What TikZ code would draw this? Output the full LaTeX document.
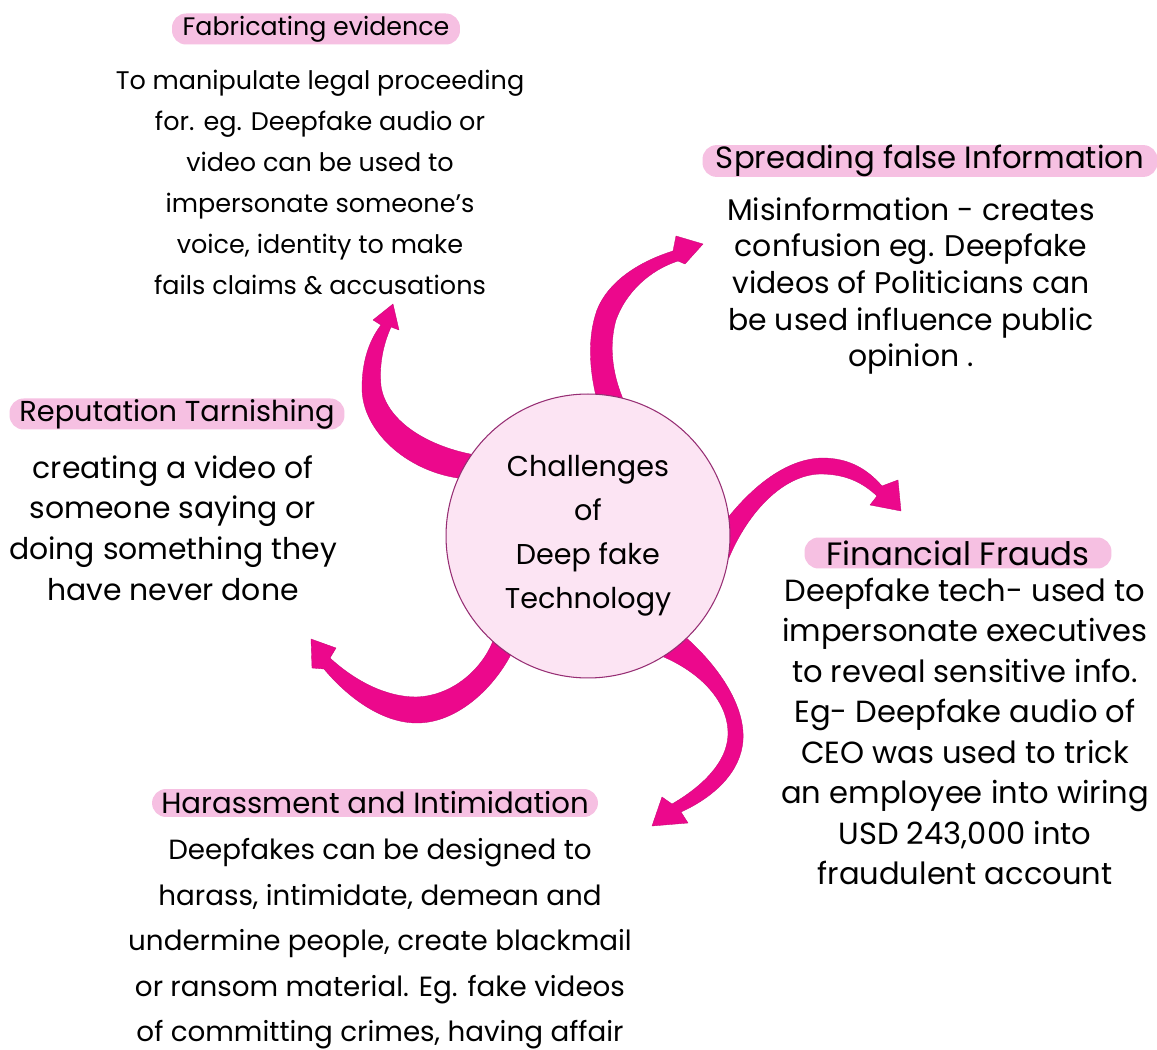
\documentclass[tikz,border=0pt]{standalone}
\usepackage{fontspec}
\setmainfont{Poppins}
\usetikzlibrary{positioning,backgrounds}

\definecolor{hotpink}{RGB}{236,8,140}
\definecolor{hubfill}{RGB}{252,228,243}
\definecolor{hubline}{RGB}{150,45,115}
\definecolor{marker}{RGB}{246,192,226}

% size and leading in one go
\newcommand{\hand}[2]{\fontsize{#1}{#2}\selectfont}

\tikzset{
  headbox/.style={fill=marker, rounded corners=8pt, minimum height=0.62cm, inner sep=0pt},
  bodytext/.style={align=center, inner sep=0pt},
  swoosh/.style={fill=hotpink, draw=hotpink!85!black, line width=0.2pt, line join=round},
}

\begin{document}
\begin{tikzpicture}[x=0.02cm, y=-0.02cm]
\useasboundingbox (0,0) rectangle (1157,1050);

% --- CENTRE ---
\node[circle, draw=hubline, fill=hubfill, line width=0.6pt, minimum size=5.68cm,
  align=center, font=\hand{16.3}{25}] (hub) at (588,536)
  {Challenges\\of\\Deep fake\\Technology};

% --- headings ---
\node[headbox, minimum width=5.76cm, font=\hand{14.4}{17}] (fabhead) at (316,29)
  {Fabricating evidence};
\node[headbox, minimum width=9.1cm, font=\hand{17.5}{20}] (spreadhead) at (930,161)
  {Spreading false Information};
\node[headbox, minimum width=6.7cm, font=\hand{16.4}{19}] (rephead) at (177,414)
  {Reputation Tarnishing};
\node[headbox, minimum width=6.14cm, font=\hand{18.4}{21}] (finhead) at (958,553)
  {Financial Frauds};
\node[headbox, minimum width=8.92cm, minimum height=0.56cm, font=\hand{16.6}{19}] (harhead)
  at (375,803) {Harassment and Intimidation};

% --- text under each heading ---
\node[bodytext, font=\hand{14.5}{23.3}, below=0.5cm of fabhead, xshift=0.08cm] (fabtext)
  {To manipulate legal proceeding\\ for. eg. Deepfake audio or\\ video can be used to\\
   impersonate someone's\\ voice, identity to make\\ fails claims \& accusations};
\node[bodytext, font=\hand{17}{20.8}, below=0.4cm of spreadhead, xshift=-0.38cm] (spreadtext)
  {Misinformation - creates\\ confusion eg. Deepfake\\ videos of Politicians can\\
   be used influence public\\ opinion .};
\node[bodytext, font=\hand{17}{23.3}, below=0.5cm of rephead, xshift=-0.08cm] (reptext)
  {creating a video of\\ someone saying or\\ doing something they\\ have never done};
\node[bodytext, font=\hand{17.4}{23}, below=0.18cm of finhead, xshift=0.14cm] (fintext)
  {Deepfake tech- used to\\ impersonate executives\\ to reveal sensitive info.\\
   Eg- Deepfake audio of\\ CEO was used to trick\\ an employee into wiring\\
   USD 243,000 into\\ fraudulent account};
\node[bodytext, font=\hand{15.8}{25.9}, below=0.42cm of harhead, xshift=0.1cm] (hartext)
  {Deepfakes can be designed to\\ harass, intimidate, demean and\\
   undermine people, create blackmail\\ or ransom material. Eg. fake videos\\
   of committing crimes, having affair};

% arrow tips
\coordinate (fabtip) at (393,304);
\coordinate (spreadtip) at (703,244);
\coordinate (fintip) at (901,511);
\coordinate (hartip) at (652,826);
\coordinate (reptip) at (311,639);

% --- curved arrows, kept behind the circle ---
\begin{scope}[on background layer]
  \fill[white] (0,0) rectangle (1157,1050);

  % up to the evidence heading
  \fill[swoosh] (hub.156) .. controls (405,470) and (362,430) .. (362,388)
    .. controls (362,358) and (371,338) .. (381,325)
    -- (373,320) -- (fabtip) -- (399,330) -- (391,327)
    .. controls (383,345) and (379,365) .. (381,386)
    .. controls (386,420) and (425,445) .. (hub.145) -- cycle;

  % up and over to false information
  \fill[swoosh] (hub.87) .. controls (590,370) and (587,338) .. (597,310)
    .. controls (608,282) and (638,262) .. (673,251)
    -- (676,236) -- (spreadtip) -- (685,264) -- (678,261)
    .. controls (650,270) and (626,292) .. (616,320)
    .. controls (609,345) and (612,372) .. (hub.76) -- cycle;

  % right, to the frauds
  \fill[swoosh] (hub.8) .. controls (752,488) and (785,459) .. (822,458)
    .. controls (850,458) and (868,470) .. (882,486)
    -- (898,480) -- (fintip) -- (870,505) -- (877,496)
    .. controls (862,482) and (845,474) .. (820,474)
    .. controls (783,475) and (748,512) .. (hub.-9) -- cycle;

  % down, to harassment
  \fill[swoosh] (hub.-46) .. controls (722,670) and (745,708) .. (743,740)
    .. controls (741,772) and (714,797) .. (681,812)
    -- (688,823) -- (hartip) -- (662,797) -- (672,804)
    .. controls (703,786) and (727,762) .. (728,735)
    .. controls (729,705) and (705,675) .. (hub.-58) -- cycle;

  % back round to reputation
  \fill[swoosh] (hub.237) .. controls (492,690) and (456,723) .. (417,723)
    .. controls (384,723) and (350,700) .. (324,669)
    -- (312,668) -- (reptip) -- (336,648) -- (330,658)
    .. controls (355,681) and (386,697) .. (416,697)
    .. controls (452,696) and (481,670) .. (hub.228) -- cycle;
\end{scope}
\end{tikzpicture}
\end{document}
